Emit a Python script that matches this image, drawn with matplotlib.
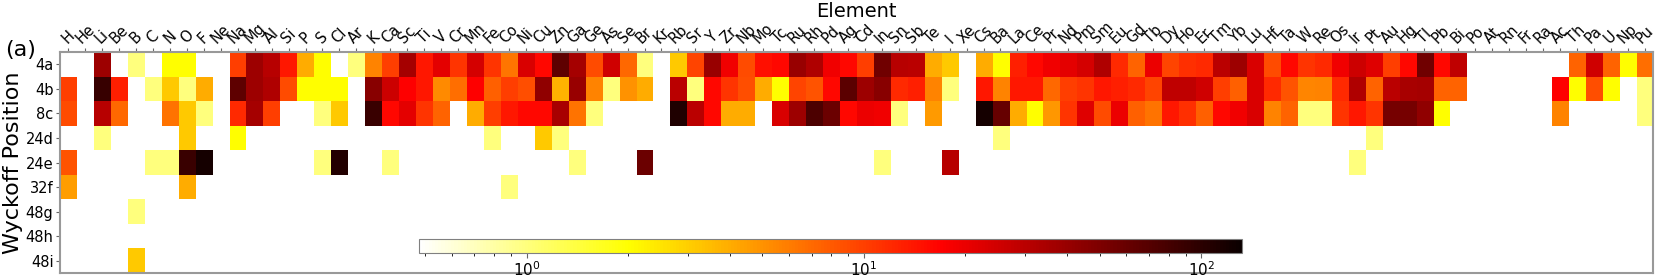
import numpy as np
import matplotlib
matplotlib.use('Agg')
import matplotlib.pyplot as plt
from matplotlib.colors import LogNorm

elements = ['H', 'He', 'Li', 'Be', 'B', 'C', 'N', 'O', 'F', 'Ne', 'Na', 'Mg', 'Al', 'Si', 'P', 'S',
            'Cl', 'Ar', 'K', 'Ca', 'Sc', 'Ti', 'V', 'Cr', 'Mn', 'Fe', 'Co', 'Ni', 'Cu', 'Zn', 'Ga',
            'Ge', 'As', 'Se', 'Br', 'Kr', 'Rb', 'Sr', 'Y', 'Zr', 'Nb', 'Mo', 'Tc', 'Ru', 'Rh', 'Pd',
            'Ag', 'Cd', 'In', 'Sn', 'Sb', 'Te', 'I', 'Xe', 'Cs', 'Ba', 'La', 'Ce', 'Pr', 'Nd', 'Pm',
            'Sm', 'Eu', 'Gd', 'Tb', 'Dy', 'Ho', 'Er', 'Tm', 'Yb', 'Lu', 'Hf', 'Ta', 'W', 'Re', 'Os',
            'Ir', 'Pt', 'Au', 'Hg', 'Tl', 'Pb', 'Bi', 'Po', 'At', 'Rn', 'Fr', 'Ra', 'Ac', 'Th', 'Pa',
            'U', 'Np', 'Pu']
positions = ['4a', '4b', '8c', '24d', '24e', '32f', '48g', '48h', '48i']

# values per Wyckoff site (missing element -> empty cell)
site_4a = {'Li': 38, 'B': 1.0, 'N': 2.0, 'O': 2.0, 'Na': 10, 'Mg': 38, 'Al': 31, 'Si': 14, 'P': 4,
           'S': 2, 'Ar': 1.0, 'K': 5.7, 'Ca': 10, 'Sc': 36, 'Ti': 14, 'V': 21, 'Cr': 11, 'Mn': 24,
           'Fe': 11, 'Co': 6.3, 'Ni': 23, 'Cu': 16, 'Zn': 64, 'Ga': 36, 'Ge': 9, 'As': 25, 'Se': 7,
           'Br': 1.0, 'Rb': 3.1, 'Sr': 9.5, 'Y': 40, 'Zr': 19, 'Nb': 9, 'Mo': 15, 'Tc': 16, 'Ru': 40,
           'Rh': 33, 'Pd': 19, 'Ag': 16, 'Cd': 10, 'In': 55, 'Sn': 31, 'Sb': 30, 'Te': 4, 'I': 3.1,
           'Cs': 4, 'Ba': 2, 'La': 13, 'Ce': 16, 'Pr': 19, 'Nd': 21, 'Pm': 24, 'Sm': 33, 'Eu': 12,
           'Gd': 7.3, 'Tb': 20, 'Dy': 9.5, 'Ho': 11.5, 'Er': 12, 'Tm': 30, 'Yb': 38, 'Lu': 23,
           'Hf': 9, 'Ta': 16, 'W': 11, 'Re': 12, 'Os': 19, 'Ir': 26, 'Pt': 22, 'Au': 10, 'Hg': 16,
           'Tl': 55, 'Pb': 16, 'Bi': 29, 'Th': 7.3, 'Pa': 25, 'U': 7.3, 'Np': 2, 'Pu': 6.8}
site_4b = {'H': 10, 'Li': 90, 'Be': 13, 'C': 1.0, 'N': 3.1, 'O': 1.0, 'F': 4, 'Na': 64, 'Mg': 38,
           'Al': 33, 'Si': 9, 'P': 2, 'S': 2, 'Cl': 2, 'K': 46, 'Ca': 26, 'Sc': 17, 'Ti': 14, 'V': 5.3,
           'Cr': 6.8, 'Mn': 17, 'Fe': 7.5, 'Co': 10, 'Ni': 8.8, 'Cu': 43, 'Zn': 3.8, 'Ga': 40,
           'Ge': 5.7, 'As': 1.0, 'Se': 5, 'Br': 4, 'Rb': 30, 'Sr': 1.0, 'Y': 16, 'Zr': 11, 'Nb': 8.8,
           'Mo': 4, 'Tc': 2, 'Ru': 9.5, 'Rh': 8.5, 'Pd': 16, 'Ag': 66, 'Cd': 38, 'In': 46, 'Sn': 12,
           'Sb': 13, 'Te': 5.7, 'I': 1.0, 'Cs': 14, 'Ba': 5.7, 'La': 14, 'Ce': 14, 'Pr': 7, 'Nd': 10,
           'Pm': 11, 'Sm': 14, 'Eu': 13, 'Gd': 12, 'Tb': 9.5, 'Dy': 29, 'Ho': 29, 'Er': 25, 'Tm': 10,
           'Yb': 7.5, 'Lu': 23, 'Hf': 12, 'Ta': 8.5, 'W': 5.5, 'Re': 5.7, 'Os': 12, 'Ir': 33,
           'Pt': 7.3, 'Au': 30, 'Hg': 35, 'Tl': 36, 'Pb': 7.3, 'Bi': 7.3, 'Ac': 17, 'Th': 2,
           'Pa': 8.8, 'U': 2, 'Pu': 1.0}
site_8c = {'H': 9, 'Li': 31, 'Be': 7, 'N': 6.5, 'O': 3.1, 'F': 1.0, 'Na': 12, 'Mg': 36, 'Al': 10,
           'S': 1.0, 'Cl': 3.1, 'K': 88, 'Ca': 16, 'Sc': 21, 'Ti': 11, 'V': 7.3, 'Mn': 4, 'Fe': 10,
           'Co': 14, 'Ni': 16, 'Cu': 16, 'Zn': 35, 'Ga': 6.5, 'Ge': 1.0, 'Rb': 110, 'Sr': 30,
           'Y': 16, 'Zr': 4, 'Nb': 4, 'Tc': 23, 'Ru': 38, 'Rh': 75, 'Pd': 58, 'Ag': 16, 'Cd': 20,
           'In': 19, 'Sn': 1.0, 'Te': 4.6, 'Cs': 120, 'Ba': 60, 'La': 4, 'Ce': 2, 'Pr': 4.8,
           'Nd': 11, 'Pm': 22, 'Sm': 9, 'Eu': 20, 'Gd': 7.5, 'Tb': 6.5, 'Dy': 14, 'Ho': 11.5,
           'Er': 7.5, 'Tm': 16, 'Yb': 19, 'Lu': 23, 'Hf': 5.7, 'Ta': 7.3, 'W': 1.0, 'Re': 1.0,
           'Os': 11, 'Ir': 14, 'Pt': 11, 'Au': 53, 'Hg': 53, 'Tl': 43, 'Pb': 2, 'Ac': 5.7, 'Pu': 1.0}
site_24d = {'Li': 1.0, 'O': 3.1, 'Na': 2.0, 'Fe': 1.0, 'Cu': 3.1, 'Zn': 1.0, 'Ba': 1.0, 'Pt': 1.0}
site_24e = {'H': 8.5, 'C': 1.0, 'N': 1.0, 'O': 88, 'F': 120, 'S': 1.0, 'Cl': 107, 'Ca': 1.0,
            'Ga': 1.0, 'Br': 58, 'In': 1.0, 'I': 31, 'Ir': 1.0}
site_32f = {'H': 4.5, 'O': 4.0, 'Co': 1.0}
site_48g = {'B': 1.0}
site_48h = {}
site_48i = {'B': 3.1}

sites = [site_4a, site_4b, site_8c, site_24d, site_24e, site_32f, site_48g, site_48h, site_48i]
grid = np.array([[s.get(el, np.nan) for el in elements] for s in sites], dtype=float)
grid = np.ma.masked_invalid(grid)

fig = plt.figure(figsize=(16.6, 2.79), dpi=100)
ax = fig.add_axes([0.036, 0.0215, 0.9598, 0.792])
norm = LogNorm(vmin=0.48, vmax=132)
im = ax.imshow(grid, aspect='auto', cmap='hot_r', norm=norm, interpolation='nearest')

ax.xaxis.tick_top()
ax.xaxis.set_label_position('top')
ax.set_xticks(np.arange(len(elements)))
ax.set_xticklabels(elements, rotation=45, fontsize=10.5)
ax.set_yticks(np.arange(len(positions)))
ax.set_yticklabels(positions, fontsize=10.5)
ax.set_xlabel('Element', fontsize=14, labelpad=1)
ax.set_ylabel('Wyckoff Position', fontsize=16, labelpad=2)
ax.tick_params(axis='both', color='0.4', length=3, pad=1.5)
for sp in ax.spines.values():
    sp.set_color('0.6')
    sp.set_linewidth(1.5)

fig.text(0.003, 0.82, '(a)', fontsize=16, va='center', ha='left')

cax = fig.add_axes([0.2524, 0.0932, 0.4958, 0.05])
cb = fig.colorbar(im, cax=cax, orientation='horizontal')
cb.outline.set_edgecolor('0.5')
cb.ax.tick_params(labelsize=11, color='0.4', pad=1.5)

fig.savefig('out.png', dpi=100)
